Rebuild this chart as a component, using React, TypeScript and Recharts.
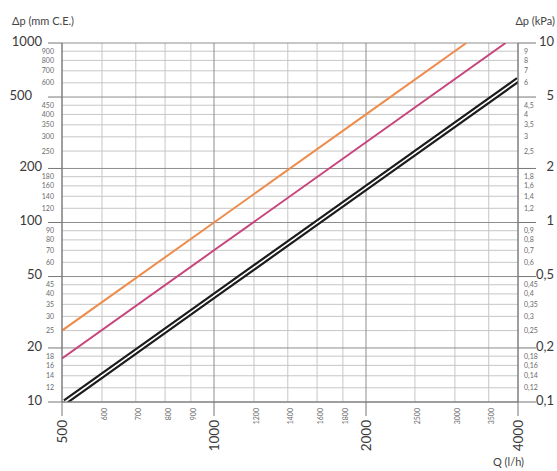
import React from 'react'
import { LineChart, Line, XAxis, YAxis, ReferenceLine } from 'recharts'

// flow rate Q (l/h) and pressure drop (mm C.E.)
const qOrange = [500, 1000, 2000, 3160]
const dpOrange = [25, 100, 400, 1000]
const qMagenta = [500, 1000, 2000, 3780]
const dpMagenta = [17.5, 70, 280, 1000]
const qBlack = [507, 1000, 2000, 4000]
const dpBlack = [10, 39, 156, 624]

const qTicks = [500, 600, 700, 800, 900, 1000, 1200, 1400, 1600, 1800, 2000, 2500, 3000, 3500, 4000]
const qMajor = [500, 1000, 2000, 4000]
const mmTicks = [10, 12, 14, 16, 18, 20, 25, 30, 35, 40, 45, 50, 60, 70, 80, 90, 100, 120, 140, 160, 180, 200, 250, 300, 350, 400, 450, 500, 600, 700, 800, 900, 1000]
const mmMajor = [10, 20, 50, 100, 200, 500, 1000]
const kpaTicks = [0.1, 0.12, 0.14, 0.16, 0.18, 0.2, 0.25, 0.3, 0.35, 0.4, 0.45, 0.5, 0.6, 0.7, 0.8, 0.9, 1, 1.2, 1.4, 1.6, 1.8, 2, 2.5, 3, 3.5, 4, 4.5, 5, 6, 7, 8, 9, 10]
const kpaMajor = [0.1, 0.2, 0.5, 1, 2, 5, 10]

const toRows = (qs: number[], dps: number[]) => qs.map((q, i) => ({ q, dp: dps[i] }))
const orangeData = toRows(qOrange, dpOrange)
const magentaData = toRows(qMagenta, dpMagenta)
const blackData = toRows(qBlack, dpBlack)

const FONT = 'Lato, "Open Sans", sans-serif'
const MAJOR_TXT = '#3a3a3a'
const MINOR_TXT = '#6a6a6a'
const GRID_MINOR = '#c6c6c6'
const GRID_MAJOR = '#8e8e8e'

const fmt = (v: number) => String(v).replace('.', ',')

// eslint-disable-next-line @typescript-eslint/no-explicit-any
function LeftTick({ x, y, payload }: any) {
  const v = payload.value
  if (mmMajor.includes(v)) {
    return (
      <g>
        <line x1={x - 14} x2={x} y1={y} y2={y} stroke="#777" />
        <text x={x - (v === 500 ? 30 : 20)} y={y - 2} dy="0.35em" textAnchor="end" fontSize={13} fill={MAJOR_TXT} fontFamily={FONT}>
          {v}
        </text>
      </g>
    )
  }
  return (
    <text x={x - 8} y={y} dy="0.35em" textAnchor="end" fontSize={7} fill={MINOR_TXT} fontFamily={FONT}>
      {v}
    </text>
  )
}

// eslint-disable-next-line @typescript-eslint/no-explicit-any
function RightTick({ x, y, payload }: any) {
  const v = payload.value
  if (kpaMajor.includes(v)) {
    return (
      <g>
        <line x1={x} x2={x + 18} y1={y} y2={y} stroke="#777" />
        <text x={x + 36} y={y - 2} dy="0.35em" textAnchor="end" fontSize={13} fill={MAJOR_TXT} fontFamily={FONT}>
          {fmt(v)}
        </text>
      </g>
    )
  }
  return (
    <text x={x + 6} y={y} dy="0.35em" textAnchor="start" fontSize={7} fill={MINOR_TXT} fontFamily={FONT}>
      {fmt(v)}
    </text>
  )
}

// eslint-disable-next-line @typescript-eslint/no-explicit-any
function BottomTick({ x, y, payload }: any) {
  const v = payload.value
  if (qMajor.includes(v)) {
    return (
      <g>
        <line x1={x} x2={x} y1={y} y2={y + 14} stroke="#777" />
        <text x={x} y={y + 18} dy="0.35em" textAnchor="end" fontSize={13.5} fill={MAJOR_TXT} fontFamily={FONT} transform={`rotate(-90, ${x}, ${y + 18})`}>
          {v}
        </text>
      </g>
    )
  }
  return (
    <text x={x + 3} y={y + 6} dy="0.35em" textAnchor="end" fontSize={7} fill={MINOR_TXT} fontFamily={FONT} transform={`rotate(-90, ${x + 3}, ${y + 6})`}>
      {v}
    </text>
  )
}

export default function App() {
  return (
    <div style={{ position: 'absolute', left: 0, top: 0, width: 557, height: 471, background: '#fff', fontFamily: FONT }}>
      <div style={{ position: 'absolute', left: 12, top: 14, fontSize: 11, color: '#444' }}>Δp (mm C.E.)</div>
      <div style={{ position: 'absolute', right: 2, top: 14, fontSize: 11, color: '#444' }}>Δp (kPa)</div>
      <div style={{ position: 'absolute', left: 493, top: 455, fontSize: 11, color: '#444' }}>Q (l/h)</div>
      <LineChart width={557} height={471} margin={{ top: 43, right: 0, bottom: 0, left: 0 }}>
        <XAxis
          dataKey="q"
          type="number"
          scale="log"
          domain={[500, 4000]}
          ticks={qTicks}
          interval={0}
          allowDataOverflow
          height={69}
          tickSize={0}
          tickMargin={0}
          tick={<BottomTick />}
          axisLine={{ stroke: '#777' }}
        />
        <YAxis
          yAxisId="left"
          type="number"
          scale="log"
          domain={[10, 1000]}
          ticks={mmTicks}
          interval={0}
          allowDataOverflow
          width={62}
          tickSize={0}
          tickMargin={0}
          tick={<LeftTick />}
          axisLine={{ stroke: '#777' }}
        />
        <YAxis
          yAxisId="right"
          orientation="right"
          type="number"
          scale="log"
          domain={[0.1, 10]}
          ticks={kpaTicks}
          interval={0}
          allowDataOverflow
          width={39}
          tickSize={0}
          tickMargin={0}
          tick={<RightTick />}
          axisLine={{ stroke: '#777' }}
        />
        {qTicks.filter((v) => !qMajor.includes(v)).map((v) => (
          <ReferenceLine key={`vx${v}`} x={v} yAxisId="left" stroke={GRID_MINOR} />
        ))}
        {mmTicks.filter((v) => !mmMajor.includes(v)).map((v) => (
          <ReferenceLine key={`hy${v}`} y={v} yAxisId="left" stroke={GRID_MINOR} />
        ))}
        {qMajor.map((v) => (
          <ReferenceLine key={`VX${v}`} x={v} yAxisId="left" stroke={GRID_MAJOR} />
        ))}
        {mmMajor.map((v) => (
          <ReferenceLine key={`HY${v}`} y={v} yAxisId="left" stroke={GRID_MAJOR} />
        ))}
        <Line yAxisId="left" data={orangeData} dataKey="dp" type="linear" stroke="#ee8c4c" strokeWidth={2} dot={false} isAnimationActive={false} />
        <Line yAxisId="left" data={magentaData} dataKey="dp" type="linear" stroke="#c8457c" strokeWidth={2} dot={false} isAnimationActive={false} />
        <Line yAxisId="left" data={blackData} dataKey="dp" type="linear" stroke="#1c1c1c" strokeWidth={6} dot={false} isAnimationActive={false} />
        <Line yAxisId="left" data={blackData} dataKey="dp" type="linear" stroke="#ffffff" strokeWidth={1.6} dot={false} isAnimationActive={false} />
      </LineChart>
    </div>
  )
}
